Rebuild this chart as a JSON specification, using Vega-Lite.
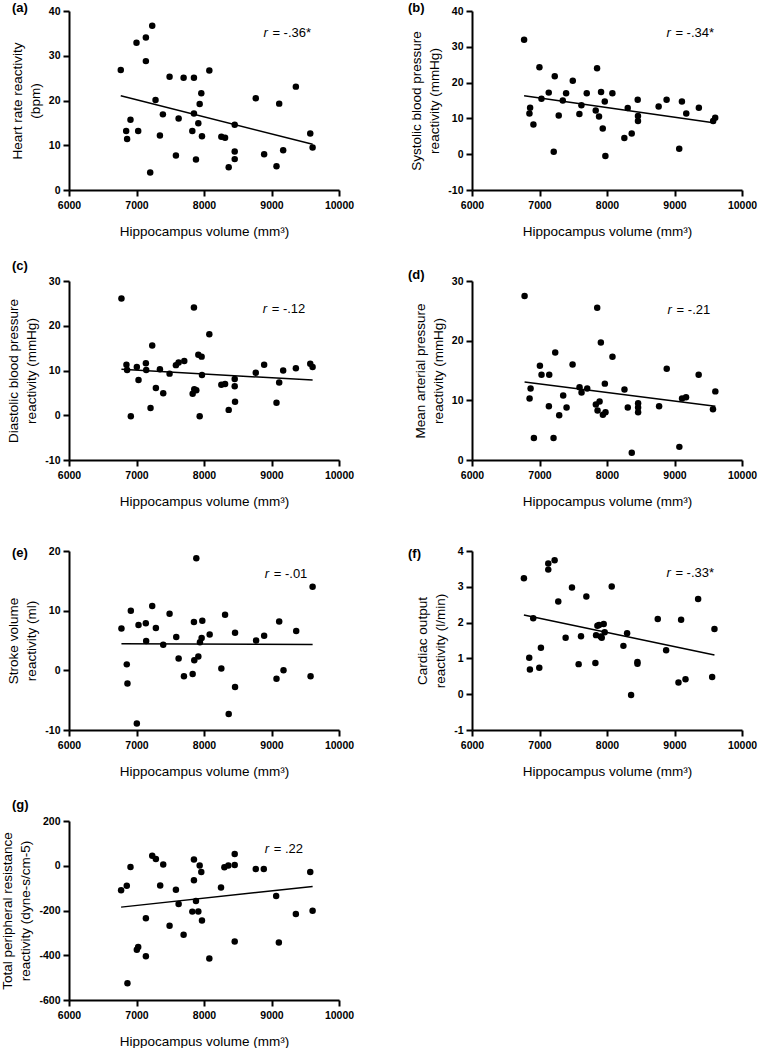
{
  "$schema": "https://vega.github.io/schema/vega-lite/v6.json",
  "background": "white",
  "padding": {"left": 0, "top": 2, "right": 5, "bottom": 5},
  "bounds": "flush",
  "columns": 2,
  "spacing": {"row": 91, "column": 133},
  "config": {
    "font": "Liberation Sans",
    "view": {"stroke": null},
    "locale": {"number": {"decimal": ".", "thousands": ",", "grouping": [3], "currency": ["$", ""], "minus": "-"}},
    "axis": {
      "grid": false, "domainColor": "black", "domainWidth": 2, "tickColor": "black", "tickWidth": 2, "tickSize": 6,
      "labelFont": "Liberation Sans", "labelFontWeight": "bold", "labelFontSize": 10.5, "labelColor": "black",
      "titleFont": "Liberation Sans", "titleFontWeight": "normal", "titleFontSize": 13.5, "titleColor": "black",
      "format": "d", "labelFlush": false, "labelOverlap": false, "tickCount": 12
    },
    "axisX": {"labelPadding": 4, "titlePadding": 14, "labelOverlap": false},
    "axisY": {"labelPadding": 3, "titlePadding": 6, "titleLineHeight": 18, "labelOverlap": false},
    "title": {"font": "Liberation Sans", "fontSize": 13, "fontWeight": "bold", "color": "black", "anchor": "start", "frame": "group", "baseline": "middle"},
    "text": {"font": "Liberation Sans", "fontSize": 13, "color": "black"}
  },
  "datasets": {
    "a": [
      {"x":6767,"y":26.8},{"x":6847,"y":13.2},{"x":6861,"y":11.4},{"x":6911,"y":15.7},{"x":7000,"y":32.9},{"x":7025,"y":13.2},{"x":7139,"y":34.1},{"x":7139,"y":28.8},{"x":7203,"y":3.9},{"x":7233,"y":36.7},{"x":7282,"y":20.1},{"x":7347,"y":12.2},{"x":7391,"y":16.9},{"x":7490,"y":25.3},{"x":7584,"y":7.7},{"x":7624,"y":16.0},{"x":7698,"y":25.1},{"x":7827,"y":13.2},{"x":7851,"y":25.1},{"x":7851,"y":17.1},{"x":7881,"y":6.8},{"x":7916,"y":14.9},{"x":7936,"y":19.2},{"x":7960,"y":21.6},{"x":7970,"y":12.0},{"x":8079,"y":26.7},{"x":8257,"y":11.9},{"x":8312,"y":11.7},{"x":8366,"y":5.1},{"x":8455,"y":14.6},{"x":8455,"y":8.6},{"x":8455,"y":6.9},{"x":8767,"y":20.5},{"x":8891,"y":8.0},{"x":9074,"y":5.3},{"x":9114,"y":19.3},{"x":9173,"y":8.9},{"x":9361,"y":23.1},{"x":9574,"y":12.6},{"x":9609,"y":9.5}
    ],
    "b": [
      {"x":6772,"y":32.0},{"x":6851,"y":11.4},{"x":6861,"y":13.0},{"x":6910,"y":8.3},{"x":6999,"y":24.3},{"x":7029,"y":15.5},{"x":7137,"y":17.2},{"x":7226,"y":21.8},{"x":7211,"y":0.7},{"x":7285,"y":10.8},{"x":7345,"y":15.0},{"x":7394,"y":17.0},{"x":7493,"y":20.5},{"x":7591,"y":11.2},{"x":7621,"y":13.7},{"x":7700,"y":17.0},{"x":7833,"y":12.2},{"x":7853,"y":24.0},{"x":7882,"y":10.5},{"x":7912,"y":17.4},{"x":7937,"y":7.2},{"x":7967,"y":14.7},{"x":7976,"y":-0.5},{"x":8080,"y":17.0},{"x":8257,"y":4.5},{"x":8307,"y":12.9},{"x":8366,"y":5.8},{"x":8455,"y":15.2},{"x":8459,"y":10.7},{"x":8459,"y":9.3},{"x":8765,"y":13.3},{"x":8883,"y":15.2},{"x":9070,"y":1.5},{"x":9110,"y":14.7},{"x":9174,"y":11.4},{"x":9361,"y":13.0},{"x":9573,"y":9.3},{"x":9603,"y":10.2}
    ],
    "c": [
      {"x":6777,"y":26.1},{"x":6851,"y":11.3},{"x":6861,"y":10.1},{"x":6916,"y":-0.2},{"x":7005,"y":10.8},{"x":7030,"y":7.9},{"x":7139,"y":11.6},{"x":7144,"y":10.1},{"x":7208,"y":1.6},{"x":7233,"y":15.6},{"x":7287,"y":6.1},{"x":7347,"y":10.3},{"x":7396,"y":4.9},{"x":7490,"y":9.3},{"x":7584,"y":11.2},{"x":7624,"y":11.8},{"x":7708,"y":12.1},{"x":7832,"y":4.8},{"x":7851,"y":24.1},{"x":7856,"y":5.8},{"x":7886,"y":5.6},{"x":7916,"y":13.5},{"x":7936,"y":-0.2},{"x":7965,"y":13.1},{"x":7970,"y":9.0},{"x":8079,"y":18.1},{"x":8257,"y":6.8},{"x":8312,"y":7.0},{"x":8366,"y":1.2},{"x":8455,"y":8.1},{"x":8455,"y":6.5},{"x":8460,"y":3.0},{"x":8767,"y":9.5},{"x":8891,"y":11.3},{"x":9074,"y":2.8},{"x":9114,"y":7.3},{"x":9173,"y":10.0},{"x":9361,"y":10.5},{"x":9574,"y":11.5},{"x":9609,"y":10.8}
    ],
    "d": [
      {"x":6779,"y":27.5},{"x":6853,"y":10.3},{"x":6868,"y":12.0},{"x":6917,"y":3.7},{"x":7006,"y":15.8},{"x":7030,"y":14.3},{"x":7139,"y":9.0},{"x":7144,"y":14.3},{"x":7208,"y":3.7},{"x":7233,"y":18.0},{"x":7292,"y":7.5},{"x":7351,"y":10.8},{"x":7401,"y":8.8},{"x":7490,"y":16.0},{"x":7593,"y":12.2},{"x":7623,"y":11.3},{"x":7707,"y":12.0},{"x":7835,"y":9.3},{"x":7855,"y":25.5},{"x":7860,"y":8.3},{"x":7890,"y":9.8},{"x":7909,"y":19.7},{"x":7939,"y":7.6},{"x":7968,"y":12.8},{"x":7978,"y":8.0},{"x":8081,"y":17.3},{"x":8259,"y":11.8},{"x":8308,"y":8.8},{"x":8367,"y":1.2},{"x":8461,"y":9.5},{"x":8461,"y":8.8},{"x":8461,"y":8.0},{"x":8772,"y":9.0},{"x":8885,"y":15.3},{"x":9072,"y":2.2},{"x":9112,"y":10.3},{"x":9171,"y":10.5},{"x":9358,"y":14.3},{"x":9570,"y":8.5},{"x":9605,"y":11.5}
    ],
    "e": [
      {"x":6777,"y":7.0},{"x":6856,"y":1.0},{"x":6866,"y":-2.2},{"x":6916,"y":10.0},{"x":7005,"y":-8.9},{"x":7030,"y":7.6},{"x":7138,"y":7.9},{"x":7143,"y":4.9},{"x":7233,"y":10.8},{"x":7287,"y":7.1},{"x":7396,"y":4.3},{"x":7490,"y":9.5},{"x":7589,"y":5.6},{"x":7624,"y":2.0},{"x":7703,"y":-1.0},{"x":7832,"y":-0.6},{"x":7851,"y":8.1},{"x":7856,"y":1.7},{"x":7886,"y":18.8},{"x":7916,"y":2.3},{"x":7940,"y":4.7},{"x":7965,"y":5.4},{"x":7975,"y":8.3},{"x":8084,"y":6.0},{"x":8257,"y":0.3},{"x":8312,"y":9.3},{"x":8366,"y":-7.3},{"x":8460,"y":6.3},{"x":8460,"y":-2.8},{"x":8772,"y":5.0},{"x":8891,"y":5.8},{"x":9074,"y":-1.4},{"x":9114,"y":8.2},{"x":9178,"y":0.0},{"x":9366,"y":6.6},{"x":9579,"y":-1.0},{"x":9609,"y":14.0}
    ],
    "f": [
      {"x":6769,"y":3.24},{"x":6848,"y":1.02},{"x":6858,"y":0.69},{"x":6907,"y":2.12},{"x":6997,"y":0.74},{"x":7021,"y":1.30},{"x":7130,"y":3.65},{"x":7130,"y":3.48},{"x":7224,"y":3.74},{"x":7278,"y":2.59},{"x":7387,"y":1.58},{"x":7481,"y":2.98},{"x":7580,"y":0.84},{"x":7615,"y":1.62},{"x":7694,"y":2.73},{"x":7828,"y":0.87},{"x":7838,"y":1.65},{"x":7858,"y":1.91},{"x":7882,"y":1.93},{"x":7907,"y":1.61},{"x":7922,"y":1.58},{"x":7951,"y":1.96},{"x":7966,"y":1.73},{"x":8070,"y":3.01},{"x":8243,"y":1.35},{"x":8298,"y":1.70},{"x":8357,"y":-0.02},{"x":8451,"y":0.90},{"x":8451,"y":0.85},{"x":8752,"y":2.10},{"x":8876,"y":1.23},{"x":9059,"y":0.33},{"x":9098,"y":2.08},{"x":9163,"y":0.42},{"x":9350,"y":2.66},{"x":9558,"y":0.48},{"x":9592,"y":1.82}
    ],
    "g": [
      {"x":6772,"y":-109},{"x":6856,"y":-89},{"x":6911,"y":-6},{"x":6866,"y":-525},{"x":7005,"y":-375},{"x":7025,"y":-363},{"x":7139,"y":-235},{"x":7139,"y":-404},{"x":7233,"y":45},{"x":7287,"y":30},{"x":7351,"y":-88},{"x":7396,"y":6},{"x":7490,"y":-268},{"x":7584,"y":-107},{"x":7624,"y":-171},{"x":7698,"y":-308},{"x":7827,"y":-205},{"x":7851,"y":28},{"x":7851,"y":-65},{"x":7881,"y":-158},{"x":7916,"y":-204},{"x":7936,"y":1},{"x":7960,"y":-28},{"x":7970,"y":-245},{"x":8079,"y":-415},{"x":8252,"y":-97},{"x":8302,"y":-7},{"x":8361,"y":1},{"x":8455,"y":52},{"x":8455,"y":3},{"x":8455,"y":-339},{"x":8767,"y":-15},{"x":8886,"y":-15},{"x":9069,"y":-135},{"x":9109,"y":-343},{"x":9361,"y":-216},{"x":9574,"y":-28},{"x":9609,"y":-201}
    ]
  },
  "concat": [
    {
      "width": 270, "height": 179,
      "title": {"text": "(a)", "dx": -57, "offset": -9},
      "data": {"name": "a"},
      "layer": [
        {"mark": {"type": "circle", "size": 42, "opacity": 1, "color": "black"},
         "encoding": {
           "x": {"field": "x", "type": "quantitative", "scale": {"domain": [6000, 10000], "nice": false, "zero": false}, "axis": {"values": [6000, 7000, 8000, 9000, 10000], "tickCount": 12, "labelOverlap": false, "title": "Hippocampus volume (mm³)"}},
           "y": {"field": "y", "type": "quantitative", "scale": {"domain": [0, 40], "nice": false}, "axis": {"values": [0, 10, 20, 30, 40], "tickCount": 12, "labelOverlap": false, "title": ["Heart rate reactivity", "(bpm)"]}}}},
        {"transform": [{"regression": "y", "on": "x"}], "mark": {"type": "line", "color": "black", "strokeWidth": 1.5},
         "encoding": {"x": {"field": "x", "type": "quantitative"}, "y": {"field": "y", "type": "quantitative"}}},
        {"data": {"values": [{}]}, "mark": {"type": "text", "text": "r", "fontStyle": "italic", "align": "left", "baseline": "middle"},
         "encoding": {"x": {"datum": 8880}, "y": {"datum": 35}}},
        {"data": {"values": [{}]}, "mark": {"type": "text", "text": "=  -.36*", "align": "left", "baseline": "middle", "dx": 9},
         "encoding": {"x": {"datum": 8880}, "y": {"datum": 35}}}
      ]
    },
    {
      "width": 270, "height": 179,
      "title": {"text": "(b)", "dx": -64, "offset": -9},
      "data": {"name": "b"},
      "layer": [
        {"mark": {"type": "circle", "size": 42, "opacity": 1, "color": "black"},
         "encoding": {
           "x": {"field": "x", "type": "quantitative", "scale": {"domain": [6000, 10000], "nice": false, "zero": false}, "axis": {"values": [6000, 7000, 8000, 9000, 10000], "tickCount": 12, "labelOverlap": false, "title": "Hippocampus volume (mm³)"}},
           "y": {"field": "y", "type": "quantitative", "scale": {"domain": [-10, 40], "nice": false}, "axis": {"values": [-10, 0, 10, 20, 30, 40], "tickCount": 12, "labelOverlap": false, "title": ["Systolic blood pressure", "reactivity (mmHg)"]}}}},
        {"transform": [{"regression": "y", "on": "x"}], "mark": {"type": "line", "color": "black", "strokeWidth": 1.5},
         "encoding": {"x": {"field": "x", "type": "quantitative"}, "y": {"field": "y", "type": "quantitative"}}},
        {"data": {"values": [{}]}, "mark": {"type": "text", "text": "r", "fontStyle": "italic", "align": "left", "baseline": "middle"},
         "encoding": {"x": {"datum": 8880}, "y": {"datum": 33.8}}},
        {"data": {"values": [{}]}, "mark": {"type": "text", "text": "=  -.34*", "align": "left", "baseline": "middle", "dx": 9},
         "encoding": {"x": {"datum": 8880}, "y": {"datum": 33.8}}}
      ]
    },
    {
      "width": 270, "height": 179,
      "title": {"text": "(c)", "dx": -57, "offset": 3},
      "data": {"name": "c"},
      "layer": [
        {"mark": {"type": "circle", "size": 42, "opacity": 1, "color": "black"},
         "encoding": {
           "x": {"field": "x", "type": "quantitative", "scale": {"domain": [6000, 10000], "nice": false, "zero": false}, "axis": {"values": [6000, 7000, 8000, 9000, 10000], "tickCount": 12, "labelOverlap": false, "title": "Hippocampus volume (mm³)"}},
           "y": {"field": "y", "type": "quantitative", "scale": {"domain": [-10, 30], "nice": false}, "axis": {"values": [-10, 0, 10, 20, 30], "tickCount": 12, "labelOverlap": false, "title": ["Diastolic blood pressure", "reactivity (mmHg)"]}}}},
        {"transform": [{"regression": "y", "on": "x"}], "mark": {"type": "line", "color": "black", "strokeWidth": 1.5},
         "encoding": {"x": {"field": "x", "type": "quantitative"}, "y": {"field": "y", "type": "quantitative"}}},
        {"data": {"values": [{}]}, "mark": {"type": "text", "text": "r", "fontStyle": "italic", "align": "left", "baseline": "middle"},
         "encoding": {"x": {"datum": 8870}, "y": {"datum": 23.7}}},
        {"data": {"values": [{}]}, "mark": {"type": "text", "text": "=  -.12", "align": "left", "baseline": "middle", "dx": 9},
         "encoding": {"x": {"datum": 8870}, "y": {"datum": 23.7}}}
      ]
    },
    {
      "width": 270, "height": 179,
      "title": {"text": "(d)", "dx": -64, "offset": -6},
      "data": {"name": "d"},
      "layer": [
        {"mark": {"type": "circle", "size": 42, "opacity": 1, "color": "black"},
         "encoding": {
           "x": {"field": "x", "type": "quantitative", "scale": {"domain": [6000, 10000], "nice": false, "zero": false}, "axis": {"values": [6000, 7000, 8000, 9000, 10000], "tickCount": 12, "labelOverlap": false, "title": "Hippocampus volume (mm³)"}},
           "y": {"field": "y", "type": "quantitative", "scale": {"domain": [0, 30], "nice": false}, "axis": {"values": [0, 10, 20, 30], "tickCount": 12, "labelOverlap": false, "title": ["Mean arterial pressure", "reactivity (mmHg)"]}}}},
        {"transform": [{"regression": "y", "on": "x"}], "mark": {"type": "line", "color": "black", "strokeWidth": 1.5},
         "encoding": {"x": {"field": "x", "type": "quantitative"}, "y": {"field": "y", "type": "quantitative"}}},
        {"data": {"values": [{}]}, "mark": {"type": "text", "text": "r", "fontStyle": "italic", "align": "left", "baseline": "middle"},
         "encoding": {"x": {"datum": 8898}, "y": {"datum": 25.2}}},
        {"data": {"values": [{}]}, "mark": {"type": "text", "text": "=  -.21", "align": "left", "baseline": "middle", "dx": 9},
         "encoding": {"x": {"datum": 8898}, "y": {"datum": 25.2}}}
      ]
    },
    {
      "width": 270, "height": 179,
      "title": {"text": "(e)", "dx": -57, "offset": -14},
      "data": {"name": "e"},
      "layer": [
        {"mark": {"type": "circle", "size": 42, "opacity": 1, "color": "black"},
         "encoding": {
           "x": {"field": "x", "type": "quantitative", "scale": {"domain": [6000, 10000], "nice": false, "zero": false}, "axis": {"values": [6000, 7000, 8000, 9000, 10000], "tickCount": 12, "labelOverlap": false, "title": "Hippocampus volume (mm³)"}},
           "y": {"field": "y", "type": "quantitative", "scale": {"domain": [-10, 20], "nice": false}, "axis": {"values": [-10, 0, 10, 20], "tickCount": 12, "labelOverlap": false, "title": ["Stroke volume", "reactivity (ml)"]}}}},
        {"transform": [{"regression": "y", "on": "x"}], "mark": {"type": "line", "color": "black", "strokeWidth": 1.5},
         "encoding": {"x": {"field": "x", "type": "quantitative"}, "y": {"field": "y", "type": "quantitative"}}},
        {"data": {"values": [{}]}, "mark": {"type": "text", "text": "r", "fontStyle": "italic", "align": "left", "baseline": "middle"},
         "encoding": {"x": {"datum": 8900}, "y": {"datum": 16.2}}},
        {"data": {"values": [{}]}, "mark": {"type": "text", "text": "=  -.01", "align": "left", "baseline": "middle", "dx": 9},
         "encoding": {"x": {"datum": 8900}, "y": {"datum": 16.2}}}
      ]
    },
    {
      "width": 270, "height": 179,
      "title": {"text": "(f)", "dx": -64, "offset": -15},
      "data": {"name": "f"},
      "layer": [
        {"mark": {"type": "circle", "size": 42, "opacity": 1, "color": "black"},
         "encoding": {
           "x": {"field": "x", "type": "quantitative", "scale": {"domain": [6000, 10000], "nice": false, "zero": false}, "axis": {"values": [6000, 7000, 8000, 9000, 10000], "tickCount": 12, "labelOverlap": false, "title": "Hippocampus volume (mm³)"}},
           "y": {"field": "y", "type": "quantitative", "scale": {"domain": [-1, 4], "nice": false}, "axis": {"values": [-1, 0, 1, 2, 3, 4], "tickCount": 12, "labelOverlap": false, "title": ["Cardiac output", "reactivity (l/min)"]}}}},
        {"transform": [{"regression": "y", "on": "x"}], "mark": {"type": "line", "color": "black", "strokeWidth": 1.5},
         "encoding": {"x": {"field": "x", "type": "quantitative"}, "y": {"field": "y", "type": "quantitative"}}},
        {"data": {"values": [{}]}, "mark": {"type": "text", "text": "r", "fontStyle": "italic", "align": "left", "baseline": "middle"},
         "encoding": {"x": {"datum": 8880}, "y": {"datum": 3.39}}},
        {"data": {"values": [{}]}, "mark": {"type": "text", "text": "=  -.33*", "align": "left", "baseline": "middle", "dx": 9},
         "encoding": {"x": {"datum": 8880}, "y": {"datum": 3.39}}}
      ]
    },
    {
      "width": 270, "height": 179,
      "title": {"text": "(g)", "dx": -57, "offset": 4},
      "data": {"name": "g"},
      "layer": [
        {"mark": {"type": "circle", "size": 42, "opacity": 1, "color": "black"},
         "encoding": {
           "x": {"field": "x", "type": "quantitative", "scale": {"domain": [6000, 10000], "nice": false, "zero": false}, "axis": {"values": [6000, 7000, 8000, 9000, 10000], "tickCount": 12, "labelOverlap": false, "title": "Hippocampus volume (mm³)"}},
           "y": {"field": "y", "type": "quantitative", "scale": {"domain": [-600, 200], "nice": false}, "axis": {"values": [-600, -400, -200, 0, 200], "tickCount": 12, "labelOverlap": false, "title": ["Total peripheral resistance", "reactivity (dyne-s/cm-5)"]}}}},
        {"transform": [{"regression": "y", "on": "x"}], "mark": {"type": "line", "color": "black", "strokeWidth": 1.5},
         "encoding": {"x": {"field": "x", "type": "quantitative"}, "y": {"field": "y", "type": "quantitative"}}},
        {"data": {"values": [{}]}, "mark": {"type": "text", "text": "r", "fontStyle": "italic", "align": "left", "baseline": "middle"},
         "encoding": {"x": {"datum": 8900}, "y": {"datum": 74}}},
        {"data": {"values": [{}]}, "mark": {"type": "text", "text": "=  .22", "align": "left", "baseline": "middle", "dx": 9},
         "encoding": {"x": {"datum": 8900}, "y": {"datum": 74}}}
      ]
    }
  ]
}
